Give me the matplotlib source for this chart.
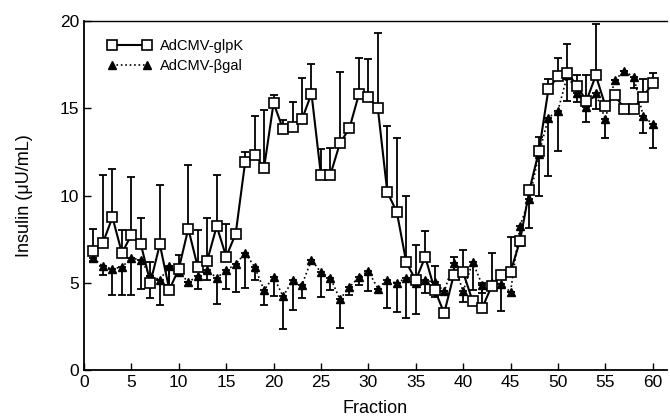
import numpy as np
import matplotlib
matplotlib.use('Agg')
import matplotlib.pyplot as plt

plt.rcParams['font.family'] = ['Liberation Sans', 'DejaVu Sans']

# fractions 1..60
fraction = list(range(1, 61))

# AdCMV-glpK mean insulin and top of error bar (uU/mL)
glpk = [6.8, 7.3, 8.75, 6.7, 7.75, 7.2, 5.0, 7.2, 4.6, 5.8,
        8.1, 5.9, 6.27, 8.24, 6.5, 7.8, 11.92, 12.35, 11.6, 15.3,
        13.8, 13.95, 14.37, 15.84, 11.15, 11.2, 13.0, 13.85, 15.8, 15.65,
        15.0, 10.19, 9.06, 6.17, 5.15, 6.48, 4.6, 3.26, 5.43, 5.6,
        3.95, 3.54, 4.8, 5.47, 5.63, 7.4, 10.33, 12.55, 16.09, 16.84,
        17.03, 16.3, 15.42, 16.88, 15.15, 15.75, 14.98, 14.98, 15.67, 16.42]
glpk_top = [8.1, 11.15, 11.5, 8.05, 11.05, 8.7, 6.2, 10.6, 5.9, 6.6,
            11.74, 8.05, 8.7, 11.15, 8.38, 7.8, 12.5, 14.56, 14.9, 15.77,
            14.33, 15.33, 16.76, 17.53, 12.64, 12.7, 17.09, 13.85, 17.9, 17.85,
            19.3, 14.0, 13.31, 9.95, 7.18, 7.95, 5.94, 3.26, 6.48, 6.9,
            3.95, 4.98, 6.7, 5.47, 7.6, 7.4, 10.33, 13.35, 16.7, 17.9,
            18.68, 16.9, 16.9, 19.83, 15.15, 15.75, 14.98, 14.98, 16.67, 17.0]
glpk_bottom = [6.22, 7.3, 8.75, 6.7, 7.75, 7.2, 4.1, 7.2, 4.6, 5.8,
               8.1, 5.9, 6.27, 8.24, 6.5, 7.8, 11.92, 12.35, 11.6, 15.3,
               13.8, 13.95, 14.37, 15.84, 11.15, 11.2, 13.0, 13.85, 15.8, 15.65,
               15.0, 10.19, 9.06, 6.17, 5.15, 6.48, 4.6, 3.26, 5.43, 5.6,
               3.95, 3.54, 4.8, 5.47, 5.63, 7.4, 10.33, 12.55, 16.09, 16.84,
               17.03, 16.3, 15.42, 16.88, 15.15, 15.75, 14.98, 14.98, 15.67, 16.42]

# AdCMV-bgal mean insulin and bottom of error bar
bgal = [6.4, 5.94, 5.8, 5.9, 6.42, 6.3, 5.4, 5.17, 5.94, 5.6,
        5.05, 5.36, 5.75, 5.27, 5.73, 6.05, 6.72, 5.9, 4.58, 5.34,
        4.22, 5.13, 4.89, 6.32, 5.59, 5.28, 4.05, 4.75, 5.32, 5.68,
        4.67, 5.17, 4.96, 5.3, 5.0, 5.13, 5.04, 4.5, 6.15, 4.5,
        6.2, 4.89, 5.0, 4.95, 4.47, 8.26, 9.82, 12.4, 14.46, 14.85,
        16.9, 15.9, 15.08, 15.85, 14.37, 16.63, 17.12, 16.8, 14.54, 14.1]
bgal_bottom = [6.2, 5.46, 4.31, 4.31, 4.31, 4.66, 5.4, 3.72, 4.9, 5.6,
               5.05, 4.62, 5.15, 3.79, 4.64, 4.47, 4.69, 5.15, 3.74, 4.25,
               2.34, 3.45, 4.12, 6.32, 4.18, 4.6, 2.39, 4.31, 4.89, 4.5,
               4.67, 3.54, 3.35, 3.0, 3.2, 4.41, 4.2, 4.5, 5.5, 3.9,
               4.6, 4.4, 5.0, 3.41, 4.47, 7.1, 8.14, 9.96, 11.11, 12.55,
               15.4, 15.33, 14.24, 14.96, 13.27, 16.63, 17.12, 16.15, 13.56, 12.74]

x = np.array(fraction)
g = np.array(glpk)
b = np.array(bgal)
g_err = [g - np.array(glpk_bottom), np.array(glpk_top) - g]
b_err = [b - np.array(bgal_bottom), np.zeros_like(b)]

fig = plt.figure(figsize=(6.7, 4.2), dpi=100)
ax = fig.add_axes([0.1254, 0.119, 0.870, 0.831])

ax.errorbar(x, b, yerr=b_err, fmt='none', ecolor='black', elinewidth=1.3,
            capsize=2.6, capthick=1.3, zorder=2)
ax.errorbar(x, g, yerr=g_err, fmt='none', ecolor='black', elinewidth=1.3,
            capsize=2.6, capthick=1.3, zorder=2)

ax.plot(x, b, linestyle=':', color='black', linewidth=1.2, marker='^',
        markersize=5.5, markerfacecolor='black', markeredgecolor='black',
        zorder=3, label='AdCMV-βgal')
ax.plot(x, g, linestyle='-', color='black', linewidth=1.5, marker='s',
        markersize=7.2, markerfacecolor='white', markeredgecolor='black',
        markeredgewidth=1.2, zorder=4, label='AdCMV-glpK')

ax.set_xlim(0, 61.5)
ax.set_ylim(0, 20)
ax.set_xticks(range(0, 61, 5))
ax.set_yticks(range(0, 21, 5))
ax.tick_params(direction='in', length=5, width=1, labelsize=12.5)
ax.set_xlabel('Fraction', fontsize=13, labelpad=7)
ax.set_ylabel('Insulin (μU/mL)', fontsize=13, labelpad=19)

ax.spines['right'].set_visible(False)
ax.spines['left'].set_linewidth(1.3)
ax.spines['bottom'].set_linewidth(1.3)
ax.spines['top'].set_linewidth(1.0)

handles, labels = ax.get_legend_handles_labels()
ax.legend(handles[::-1], labels[::-1], loc='upper left', bbox_to_anchor=(0.03, 0.965),
          frameon=False, numpoints=2, handlelength=3.0, fontsize=10.5,
          borderaxespad=0, handletextpad=0.6, labelspacing=0.4)

fig.savefig('out.png', dpi=100)
